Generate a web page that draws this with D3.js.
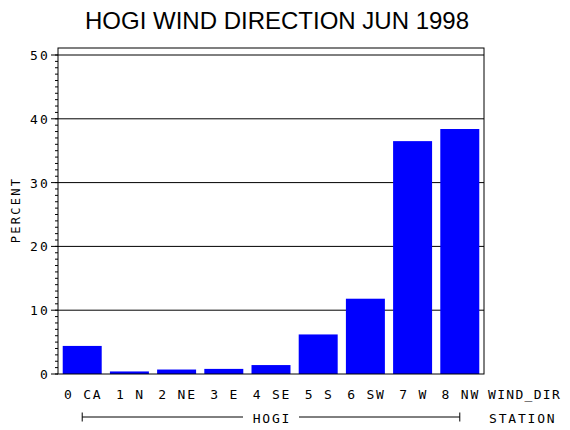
<!DOCTYPE html>
<html>
<head>
<meta charset="utf-8">
<script src="https://cdn.jsdelivr.net/npm/d3@7"></script>
<style>
  body { margin: 0; background: #fff; }
  svg text { font-family: "DejaVu Sans Mono", monospace; fill: #000; }
</style>
</head>
<body>
<svg id="chart"></svg>
<script>
// data
const directions = ["0 CA", "1 N", "2 NE", "3 E", "4 SE", "5 S", "6 SW", "7 W", "8 NW"];
const percents = [4.4, 0.4, 0.7, 0.8, 1.4, 6.2, 11.8, 36.5, 38.4];
const yTicks = [0, 10, 20, 30, 40, 50];
const station = "HOGI";
const titleText = "HOGI WIND DIRECTION JUN 1998";

const width = 570, height = 430;
const margin = {top: 48, right: 86, bottom: 56, left: 58};
const innerW = width - margin.left - margin.right,
      innerH = height - margin.top - margin.bottom;

const svg = d3.select("#chart")
    .attr("width", width)
    .attr("height", height);

const g = svg.append("g")
    .attr("transform", `translate(${margin.left},${margin.top})`);

const x = d3.scaleBand()
    .domain(directions)
    .range([0, innerW])
    .paddingInner(0.174)
    .paddingOuter(0.1);

const y = d3.scaleLinear()
    .domain([0, 50])
    .range([innerH, innerH - 50 * 6.38]);

// gridlines
g.append("g")
    .selectAll("line")
    .data(yTicks.filter(d => d > 0))
    .join("line")
    .attr("x1", 0).attr("x2", innerW)
    .attr("y1", d => y(d)).attr("y2", d => y(d))
    .attr("stroke", "#000").attr("stroke-width", 1);

// bars
g.append("g")
    .selectAll("rect")
    .data(directions)
    .join("rect")
    .attr("x", d => x(d))
    .attr("width", x.bandwidth())
    .attr("y", (d, i) => y(percents[i]))
    .attr("height", (d, i) => y(0) - y(percents[i]))
    .attr("fill", "#0000ff");

// frame
g.append("rect")
    .attr("width", innerW).attr("height", innerH)
    .attr("fill", "none").attr("stroke", "#000").attr("stroke-width", 1);

// y axis: minor ticks every 1, major every 10
const yAxis = g.append("g");
yAxis.selectAll("line.minor")
    .data(d3.range(0, 51))
    .join("line")
    .attr("class", "minor")
    .attr("x1", -3).attr("x2", 0)
    .attr("y1", d => y(d)).attr("y2", d => y(d))
    .attr("stroke", "#000");
yAxis.selectAll("line.major")
    .data(yTicks)
    .join("line")
    .attr("class", "major")
    .attr("x1", -7).attr("x2", 0)
    .attr("y1", d => y(d)).attr("y2", d => y(d))
    .attr("stroke", "#000");
yAxis.selectAll("text")
    .data(yTicks)
    .join("text")
    .attr("x", -8)
    .attr("y", d => y(d))
    .attr("dy", "0.38em")
    .attr("text-anchor", "end")
    .style("font-size", "13px")
    .style("letter-spacing", "2.2px")
    .text(d => d);

// y axis title
svg.append("text")
    .attr("transform", `translate(20,${margin.top + innerH / 2 - 1}) rotate(-90)`)
    .attr("text-anchor", "middle")
    .style("font-size", "12px")
    .style("letter-spacing", "2.3px")
    .text("PERCENT");

// category labels
const labelY = innerH + 25;
g.append("g")
    .selectAll("text")
    .data(directions)
    .join("text")
    .attr("x", d => x(d) + x.bandwidth() / 2 + 1)
    .attr("y", labelY)
    .attr("text-anchor", "middle")
    .style("font-size", "13px")
    .style("letter-spacing", "1.8px")
    .text(d => d);

g.append("text")
    .attr("x", innerW + 4)
    .attr("y", labelY)
    .style("font-size", "13px")
    .style("letter-spacing", "1.3px")
    .text("WIND_DIR");

// station bracket
const bx1 = x(directions[0]) + x.bandwidth() / 2,
      bx2 = x(directions[directions.length - 1]) + x.bandwidth() / 2,
      by = innerH + 43,
      bmid = (bx1 + bx2) / 2;
const bracket = g.append("g");
bracket.append("line")
    .attr("x1", bx1).attr("x2", bmid - 28).attr("y1", by).attr("y2", by)
    .attr("stroke", "#000");
bracket.append("line")
    .attr("x1", bmid + 28).attr("x2", bx2).attr("y1", by).attr("y2", by)
    .attr("stroke", "#000");
bracket.selectAll("line.end")
    .data([bx1, bx2])
    .join("line")
    .attr("class", "end")
    .attr("x1", d => d).attr("x2", d => d)
    .attr("y1", by - 4.5).attr("y2", by + 4.5)
    .attr("stroke", "#000");
bracket.append("text")
    .attr("x", bmid + 1)
    .attr("y", by + 6)
    .attr("text-anchor", "middle")
    .style("font-size", "13px")
    .style("letter-spacing", "1.8px")
    .text(station);

g.append("text")
    .attr("x", innerW + 5)
    .attr("y", by + 6)
    .style("font-size", "13px")
    .style("letter-spacing", "1.8px")
    .text("STATION");

// title
svg.append("text")
    .attr("x", 277)
    .attr("y", 29)
    .attr("text-anchor", "middle")
    .style("font-family", "'Liberation Sans', sans-serif")
    .style("font-size", "24px")
    .text(titleText);
</script>
</body>
</html>
